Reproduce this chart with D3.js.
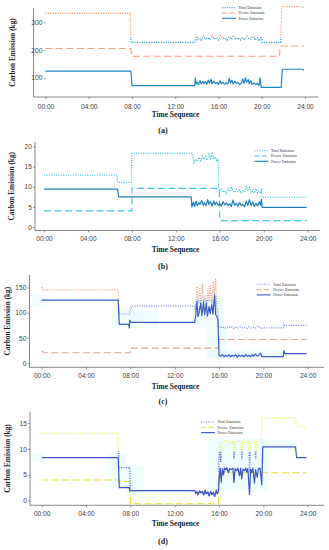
<!DOCTYPE html>
<html><head><meta charset="utf-8">
<script src="https://cdn.jsdelivr.net/npm/d3@7"></script>
<style>
html,body{margin:0;padding:0;background:#fff;}
svg{display:block;}
</style>
</head><body>
<svg id="chart" width="329" height="550"></svg>
<script>
// ---------- DATA ----------
const hourTicks = [0, 4, 8, 12, 16, 20, 24];
const hourLabels = ["00:00", "04:00", "08:00", "12:00", "16:00", "20:00", "24:00"];
const seriesNames = ["Total Emission", "Device Emission", "Power Emission"];
const captions = ["(a)", "(b)", "(c)", "(d)"];

const aYTicks = [100, 200, 300];
const bYTicks = [0, 5, 10, 15, 20];
const cYTicks = [0, 50, 100, 150];
const dYTicks = [0, 5, 10, 15];

// [hour, kg]
const aTotal = [[0,333],[7.85,333],[7.9,228],[13.8,228],[13.9,236],[14.0,250],[14.1,238],[14.3,242],[14.4,236],[14.6,252],[14.8,240],[15.0,244],[15.2,238],[15.4,254],[15.6,240],[15.8,246],[16.0,237],[16.2,252],[16.4,241],[16.6,243],[16.8,236],[17.0,248],[17.2,240],[17.4,253],[17.6,239],[17.8,245],[18.0,236],[18.2,244],[18.4,238],[18.6,255],[18.8,242],[19.0,240],[19.2,251],[19.4,236],[19.6,244],[19.8,233],[19.95,250],[20.05,228],[21.75,228],[21.85,357],[23.8,357],[23.9,350]];
const aDevice = [[0,206],[7.9,206],[7.95,178],[21.65,178],[21.7,215],[23.9,215]];
const aPower = [[0,124],[7.9,124],[8.0,72],[13.8,72],[13.85,100],[13.95,78],[14.05,84],[14.15,76],[14.3,90],[14.4,78],[14.55,88],[14.65,80],[14.8,86],[14.9,76],[15.05,92],[15.15,80],[15.3,95],[15.4,78],[15.55,88],[15.7,80],[15.85,84],[16.0,76],[16.15,90],[16.25,78],[16.4,85],[16.55,77],[16.7,82],[16.85,78],[17.0,98],[17.1,82],[17.25,92],[17.35,78],[17.5,88],[17.65,80],[17.8,84],[17.95,76],[18.1,80],[18.25,96],[18.35,80],[18.5,100],[18.6,84],[18.75,94],[18.85,78],[19.0,90],[19.1,76],[19.3,82],[19.45,76],[19.6,80],[19.75,72],[19.85,100],[19.95,66],[21.8,66],[21.9,131],[23.8,131],[23.9,127]];

const bTotal = [[0,12.9],[6.65,12.9],[6.7,11.1],[7.95,11.1],[8.0,18.3],[13.5,18.3],[13.65,16.0],[13.8,16.8],[13.95,16.3],[14.1,17.3],[14.25,16.5],[14.4,17.6],[14.55,16.8],[14.7,17.5],[14.85,16.6],[15.0,18.0],[15.15,17.0],[15.3,18.2],[15.45,16.8],[15.6,17.4],[15.75,16.2],[15.85,17.0],[15.9,9.8],[16.0,8.9],[16.15,9.4],[16.3,8.6],[16.45,9.0],[16.6,8.3],[16.75,9.6],[16.9,8.8],[17.05,10.0],[17.2,9.0],[17.35,8.6],[17.5,9.4],[17.65,8.8],[17.8,9.2],[17.95,8.4],[18.1,9.0],[18.25,8.7],[18.4,10.1],[18.55,9.2],[18.7,9.8],[18.85,8.6],[19.0,9.0],[19.15,8.4],[19.3,9.5],[19.45,8.5],[19.6,9.0],[19.75,8.3],[19.8,9.6],[19.85,7.4],[23.9,7.4]];
const bDevice = [[0,4.0],[8.0,4.0],[8.0,9.6],[15.95,9.6],[16.0,1.6],[23.9,1.6]];
const bPower = [[0,9.4],[6.7,9.4],[6.8,7.5],[13.4,7.5],[13.45,5.0],[13.6,6.2],[13.7,5.1],[13.85,6.4],[13.95,5.3],[14.1,6.0],[14.2,5.6],[14.35,6.6],[14.5,5.4],[14.6,6.1],[14.75,5.3],[14.9,6.8],[15.0,5.6],[15.15,6.3],[15.3,5.2],[15.45,6.5],[15.55,5.5],[15.7,6.2],[15.85,5.4],[16.0,5.8],[16.15,5.2],[16.3,6.3],[16.45,5.5],[16.6,6.0],[16.75,5.3],[16.9,5.8],[17.05,5.1],[17.2,6.7],[17.35,5.4],[17.5,5.9],[17.65,5.2],[17.8,6.1],[17.95,5.3],[18.1,5.6],[18.25,5.0],[18.4,6.5],[18.55,5.4],[18.7,6.8],[18.85,5.3],[19.0,6.2],[19.15,5.1],[19.3,5.9],[19.45,5.2],[19.6,6.3],[19.7,5.4],[19.8,6.9],[19.85,4.9],[23.9,4.9]];

const cTotal = [[0,151],[0.1,145],[6.9,145],[6.95,97],[7.9,97],[8.1,113],[13.8,113],[13.9,105],[14.0,152],[14.1,118],[14.25,150],[14.35,112],[14.5,158],[14.6,120],[14.75,135],[14.85,112],[15.0,148],[15.1,122],[15.2,155],[15.35,118],[15.5,162],[15.6,130],[15.7,168],[15.8,112],[15.9,98],[15.95,72],[16.1,70],[16.3,72],[16.5,69],[16.7,71],[16.9,70],[17.1,73],[17.3,69],[17.5,71],[17.7,70],[17.9,72],[18.1,70],[18.3,71],[18.5,69],[18.7,72],[18.9,70],[19.1,71],[19.3,70],[19.5,73],[19.7,71],[19.9,69],[20.1,70],[21.8,70],[21.85,80],[21.9,75],[23.9,75]];
const cDevice = [[0,25],[0.2,21],[8.0,21],[8.0,30],[15.95,30],[16.0,47],[23.9,47]];
const cPower = [[0,125],[6.9,125],[7.0,77],[7.85,77],[7.9,70],[7.95,85],[8.05,81],[13.8,81],[13.9,95],[14.0,122],[14.1,92],[14.2,100],[14.35,119],[14.45,94],[14.6,121],[14.7,96],[14.85,118],[14.95,93],[15.1,112],[15.2,98],[15.35,116],[15.45,97],[15.6,135],[15.7,96],[15.8,92],[15.9,87],[16.0,16],[16.15,14],[16.3,17],[16.45,13],[16.6,16],[16.75,14],[16.9,17],[17.05,13],[17.2,16],[17.35,14],[17.5,17],[17.65,12],[17.8,16],[17.95,14],[18.1,16],[18.25,13],[18.4,17],[18.55,14],[18.7,16],[18.85,13],[19.0,17],[19.15,14],[19.3,18],[19.45,14],[19.6,16],[19.75,20],[19.85,13],[21.8,13],[21.85,25],[21.95,19],[23.9,19]];

const dTotal = [[0,13],[6.9,13],[6.95,6.4],[7.95,6.4],[8.0,1.95],[13.8,1.95],[13.9,1.4],[14.0,1.7],[14.1,1.2],[14.25,1.9],[14.35,1.5],[14.5,1.8],[14.6,1.1],[14.75,1.9],[14.85,1.3],[15.0,1.7],[15.1,0.9],[15.25,1.8],[15.35,1.2],[15.5,1.6],[15.6,0.8],[15.75,1.9],[15.85,1.3],[15.95,2.0],[16.0,8.0],[16.05,11.4],[16.15,7.5],[16.25,11.3],[16.6,11.6],[17.0,11.2],[17.3,11.5],[17.35,8.0],[17.45,11.3],[17.8,11.6],[18.0,11.3],[18.05,8.0],[18.15,11.4],[18.5,11.2],[18.7,11.5],[18.75,5.5],[18.85,11.3],[19.25,11.5],[19.3,8.0],[19.4,11.3],[19.8,11.4],[19.9,16],[22.9,16],[23.0,14.2],[23.9,14.2]];
const dDevice = [[0,4.0],[6.9,4.0],[6.9,3.7],[7.95,3.7],[8.0,-0.6],[15.95,-0.6],[16.0,5.4],[23.9,5.4]];
const dPower = [[0,8.3],[6.9,8.3],[7.0,2.5],[7.9,2.5],[7.95,1.95],[13.8,1.95],[13.9,1.4],[14.0,1.7],[14.1,1.2],[14.25,1.9],[14.35,1.5],[14.5,1.8],[14.6,1.1],[14.75,1.9],[14.85,1.3],[15.0,1.7],[15.1,0.9],[15.25,1.8],[15.35,1.2],[15.5,1.6],[15.6,0.8],[15.75,1.9],[15.85,1.3],[15.95,2.0],[16.0,3.8],[16.1,6.3],[16.2,3.6],[16.3,6.2],[16.4,5.0],[16.5,6.3],[16.6,6.0],[16.7,6.4],[16.85,5.4],[16.95,6.2],[17.1,6.0],[17.25,6.3],[17.35,3.5],[17.45,6.2],[17.6,5.8],[17.7,6.3],[17.85,4.8],[17.95,6.3],[18.05,4.2],[18.15,6.1],[18.3,5.8],[18.4,6.3],[18.5,5.5],[18.6,6.2],[18.75,1.2],[18.85,6.1],[18.95,5.4],[19.05,6.3],[19.2,3.4],[19.3,6.0],[19.45,4.5],[19.55,6.2],[19.7,6.3],[19.85,3.1],[19.95,10.4],[22.9,10.4],[23.0,8.3],[23.9,8.3]];

// faint highlight bands: [hourStart, hourEnd, low, high]
const cBands = [[-0.9,0.4,112,135],[6.3,10.5,70,105],[13.6,16.4,70,130],[14.9,16.7,10,75],[15.0,22.1,8,26]];
const dBands = [[-0.9,0.3,7.4,9.2],[6.0,7.7,2.4,9.0],[7.7,9.2,1.0,6.9],[15.0,20.5,2.0,12.0],[19.7,23.0,9.7,11.8]];

// ---------- DRAW ----------
const svg = d3.select("#chart");
const defs = svg.append("defs");

const panels = [
  {id:"a", total:aTotal, device:aDevice, power:aPower, bands:[], yTicks:aYTicks,
   x0:45.5, x1:305, yDom:[31,352], yRange:[97,8], spineX:33.5, yAxisX:45.5, xEnd:318,
   thr:246, totHi:"#f7a07a", totLo:"#1aa3cb", devC:"#fb9f7c", powC:"#1f86c4", legTot:"#2a8cc8",
   legX:222, legY:7.7, yLabX:12.7, xLabY:114.5, capY:130.5, xLabPad:5.5},
  {id:"b", total:bTotal, device:bDevice, power:bPower, bands:[], yTicks:bYTicks,
   x0:44, x1:307.7, yDom:[-0.86,21.1], yRange:[230.5,142], spineX:35, yAxisX:35, xEnd:320,
   thr:100, totHi:"#48c9de", totLo:"#48c9de", devC:"#3cc6da", powC:"#1f80c0", legTot:"#48c9de",
   legX:254.5, legY:150.7, yLabX:11, xLabY:249.5, capY:266, xLabPad:4},
  {id:"c", total:cTotal, device:cDevice, power:cPower, bands:cBands, yTicks:cYTicks,
   x0:41.7, x1:307.7, yDom:[-7.9,174.5], yRange:[367.3,275], spineX:29.5, yAxisX:29.5, xEnd:324,
   thr:125, totHi:"#eaa88c", totLo:"#7f95dc", devC:"#d8a98d", powC:"#3a5cc6", legTot:"#8a9be0",
   legX:256.7, legY:284.3, yLabX:7.5, xLabY:386, capY:401.5, xLabPad:4},
  {id:"d", total:dTotal, device:dDevice, power:dPower, bands:dBands, yTicks:dYTicks,
   x0:41.7, x1:307.7, yDom:[-0.9,17.2], yRange:[505.3,411.7], spineX:30, yAxisX:30, xEnd:324,
   thr:9.5, totHi:"#eef05c", totLo:"#5d70cf", devC:"#e6e622", powC:"#3b55c6", legTot:"#6b7bd0",
   legX:201, legY:422, yLabX:7, xLabY:523.5, capY:541.5, xLabPad:4}
];

panels.forEach((p, i) => {
  const g = svg.append("g");
  const x = d3.scaleLinear().domain([0, 24]).range([p.x0, p.x1]);
  const y = d3.scaleLinear().domain(p.yDom).range(p.yRange);
  const yBottom = p.yRange[0], yTop = p.yRange[1];

  // bands
  g.selectAll("rect.band").data(p.bands).enter().append("rect")
    .attr("x", d => x(d[0])).attr("width", d => x(d[1]) - x(d[0]))
    .attr("y", d => y(d[3])).attr("height", d => y(d[2]) - y(d[3]))
    .attr("fill", "#e6fbfe").attr("opacity", 0.6);

  // spines
  g.append("line").attr("x1", p.spineX).attr("x2", p.spineX).attr("y1", yTop).attr("y2", yBottom)
    .attr("stroke", "#555").attr("stroke-width", 0.7);
  g.append("line").attr("x1", p.spineX).attr("x2", p.xEnd).attr("y1", yBottom).attr("y2", yBottom)
    .attr("stroke", "#555").attr("stroke-width", 0.7);

  // axes
  const xa = g.append("g").attr("transform", `translate(0,${yBottom})`)
    .call(d3.axisBottom(x).tickValues(hourTicks).tickFormat((d, k) => hourLabels[k]).tickSize(2).tickPadding(p.xLabPad));
  const ya = g.append("g").attr("transform", `translate(${p.yAxisX},0)`)
    .call(d3.axisLeft(y).tickValues(p.yTicks).tickSize(2).tickPadding(1.2));
  [xa, ya].forEach(a => {
    a.select(".domain").remove();
    a.selectAll(".tick line").attr("stroke", "#555").attr("stroke-width", 0.6);
    a.selectAll(".tick text").attr("font-family", "'Liberation Sans', Arial, sans-serif")
      .attr("font-size", 6.6).attr("fill", "#444");
  });

  // gradient for total line
  const gid = "grad" + p.id;
  const yt = y(p.thr);
  const lg = defs.append("linearGradient").attr("id", gid).attr("gradientUnits", "userSpaceOnUse")
    .attr("x1", 0).attr("x2", 0).attr("y1", yt - 0.5).attr("y2", yt + 0.5);
  lg.append("stop").attr("offset", 0).attr("stop-color", p.totHi);
  lg.append("stop").attr("offset", 1).attr("stop-color", p.totLo);

  const line = d3.line().x(d => x(d[0])).y(d => y(d[1]));

  g.append("path").datum(p.device).attr("d", line).attr("fill", "none")
    .attr("stroke", p.devC).attr("stroke-width", 1.1).attr("stroke-dasharray", "7,3.5");
  g.append("path").datum(p.total).attr("d", line).attr("fill", "none")
    .attr("stroke", `url(#${gid})`).attr("stroke-width", 1.3).attr("stroke-dasharray", "1.1,1.3");
  g.append("path").datum(p.power).attr("d", line).attr("fill", "none")
    .attr("stroke", p.powC).attr("stroke-width", 1.2).attr("stroke-linejoin", "round");

  // legend
  const legStyles = [
    {c: p.legTot, dash: "1.1,1.3", w: 1.1},
    {c: p.devC, dash: "5,2.5", w: 1.0},
    {c: p.powC, dash: null, w: 1.1}
  ];
  seriesNames.forEach((name, k) => {
    const ly = p.legY + k * 5.3;
    const l = g.append("line").attr("x1", p.legX).attr("x2", p.legX + 14).attr("y1", ly).attr("y2", ly)
      .attr("stroke", legStyles[k].c).attr("stroke-width", legStyles[k].w);
    if (legStyles[k].dash) l.attr("stroke-dasharray", legStyles[k].dash);
    g.append("text").attr("x", p.legX + 16.5).attr("y", ly + 1.3).text(name)
      .attr("font-family", "'Liberation Serif', 'Times New Roman', serif").attr("font-size", 3.8).attr("fill", "#333");
  });

  // axis titles
  const midY = (yTop + yBottom) / 2;
  g.append("text").attr("transform", `translate(${p.yLabX},${midY}) rotate(-90)`)
    .attr("text-anchor", "middle").attr("dy", "0.35em").text("Carbon Emission (kg)")
    .attr("font-family", "'Liberation Serif', 'Times New Roman', serif").attr("font-weight", "bold")
    .attr("font-size", 7.3).attr("fill", "#222");
  g.append("text").attr("x", 175.5).attr("y", p.xLabY).attr("dy", "0.35em").attr("text-anchor", "middle")
    .text("Time Sequence")
    .attr("font-family", "'Liberation Serif', 'Times New Roman', serif").attr("font-weight", "bold")
    .attr("font-size", 7.4).attr("fill", "#222");
  g.append("text").attr("x", 163).attr("y", p.capY).attr("dy", "0.35em").attr("text-anchor", "middle")
    .text(captions[i])
    .attr("font-family", "'Liberation Serif', 'Times New Roman', serif").attr("font-weight", "bold")
    .attr("font-size", 8).attr("fill", "#222");
});
</script>
</body></html>
